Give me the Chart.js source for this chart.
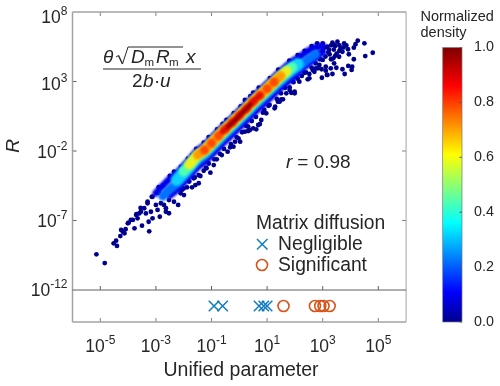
<!DOCTYPE html>
<html>
<head>
<meta charset="utf-8">
<script src="https://cdn.jsdelivr.net/npm/chart.js@4"></script>
<style>
    body { margin: 0; background: #fff; }
    canvas { position: absolute; top: 0; }
    #main { left: 0; }
    #bar { left: 415px; }
</style>
</head>
<body>
<canvas id="main" width="415" height="386"></canvas>
<canvas id="bar" width="85" height="386"></canvas>
<script>
// All points are [log10 of unified parameter, log10 of R]
const sparsePoints = [
    [-5.14,-9.43],[-4.84,-10.06],[-4.52,-8.64],[-4.40,-8.83],[-4.43,-8.45],[-4.28,-8.12],[-4.25,-7.68],[-4.09,-7.63],
    [-4.13,-7.92],[-3.98,-7.16],[-3.77,-7.56],[-3.50,-7.37],[-3.24,-7.78],[-3.26,-7.09],[-3.12,-6.84],[-2.86,-6.73],
    [-3.83,-6.96],[-3.66,-6.84],[-3.54,-6.37],[-3.42,-6.12],[-3.18,-6.37],[-2.94,-6.24],[-2.64,-6.12],[-2.53,-6.48],
    [-2.71,-5.88],[-2.35,-5.65],[-2.20,-5.88],[-2.53,-5.53],[-2.11,-5.04],[-1.99,-5.17],[-2.07,-4.81],[-3.12,-5.29],
    [-3.30,-5.76],[-4.01,-7.20],[-3.71,-6.60],[-4.19,-7.81],[-3.60,-6.49],[-3.36,-6.49],[-3.00,-5.88],[-2.82,-5.76],
    [-2.64,-6.37],[-3.90,-6.95],[-3.70,-6.55],[-3.55,-6.10],[-3.30,-5.65],[-3.15,-5.30],[-2.90,-5.00],[-2.75,-4.50],
    [-2.35,-3.49],[-1.70,-2.29],[-1.28,-1.40],[-0.46,0.23],[-1.64,-3.96],[-1.40,-3.80],[-1.04,-3.56],[-1.28,-3.42],
    [-0.81,-2.60],[-0.63,-2.29],[-0.33,-1.73],[-0.15,-1.33],[-0.03,-1.09],[0.20,-0.61],[-1.70,-4.61],[-1.46,-4.32],
    [-1.88,-4.61],[-1.58,-4.45],[-1.18,-3.24],[-1.46,-3.73],[-0.92,-3.01],[-0.42,-2.05],[-2.17,-4.68],
    [0.32,-0.25],[0.50,-0.37],[0.61,-0.44],[0.38,-0.49],[0.74,-0.06],[0.79,0.23],[0.85,0.76],[1.09,1.31],
    [1.27,1.07],[1.45,1.55],[1.57,1.72],[1.69,2.15],[1.87,2.19],[1.99,2.27],[1.81,2.58],[2.34,3.63],[2.52,3.54],
    [2.46,3.16],[2.64,3.83],[2.82,3.95],[3.00,4.55],[3.11,3.78],[3.15,3.47],[2.88,4.19],[2.16,2.99],[0.50,2.19],[0.20,1.67],
    [4.80,5.07],[4.53,4.83],[4.50,5.75],[4.26,5.94],[4.18,5.68],[4.12,5.43],[3.94,4.96],[3.91,5.32],[3.77,5.75],
    [3.53,5.86],[4.12,4.60],[4.06,4.06],[3.92,4.12],[4.04,3.83],[3.71,3.88],[3.79,3.54],[3.49,3.99],[3.35,3.54],
    [3.17,3.47],[2.97,3.27],[3.41,4.31],[3.29,3.95],[3.11,4.06],[2.96,3.88],[2.75,3.95],[2.70,3.70],[2.52,3.23],
    [3.38,4.67],[3.59,4.78],[3.71,5.14],[3.23,5.27],[3.41,5.63],[3.64,5.39],[3.17,5.50],[2.99,5.50],
    [1.99,2.15],[1.81,2.39],[1.51,1.72],[1.39,1.55],[1.29,1.19],[0.97,0.71],[0.68,-0.13],[0.32,-0.56],[0.03,-1.33],[-0.21,-1.69],
    [3.00,5.20],[3.20,5.10],[3.40,5.30],[3.50,5.00],[3.10,4.80],[3.30,4.60],[3.60,5.60],[3.00,5.75],[2.80,5.45],[3.35,5.80],
    // fringe under the band
    [-2,-4.7],[-1.8,-4.2],[-1.6,-3.9],[-1.2,-3.2],[-1.1,-2.9],[-.9,-2.6],[-.7,-2.2],[-.55,-1.85],[-.3,-1.5],[-.1,-1],[.1,-.65],
    [.25,-.2],[.45,.15],[.6,.45],[.9,.95],[1.05,1.25],[1.35,1.75],[1.5,2.15],[1.65,2.55],[1.95,2.95],[2.1,3.2],[2.25,3.4],
    [2.4,3.65],[2.6,4],[2.75,4.3],[2.9,4.6],
    // fringe over the band
    [-2.9,-4.6],[-2.5,-3.8],[-2.1,-3.15],[-1.85,-2.55],[-1.55,-1.85],[-1.1,-1],[-.8,-.45],[-.6,-.05],[-.2,.72],[.05,1.2],
    [.4,1.95],[.7,2.55],[1.1,3.25],[1.4,3.85],[1.8,4.5],[2.1,4.9],[2.35,5.2],[2.6,5.55],[2.8,5.75],
    // top end of the cloud
    [3.1,5.45],[3.25,4.95],[3.45,5.55],[3.6,5.2],[3.75,5.45],[3.85,5.6],[3.3,5.6],[3.45,4.85],[2.9,5.1]
];
const blueUpper = [
    [-3,-5.03],[-2.75,-4.5],[-2.5,-4.01],[-2.25,-3.6],[-2,-3.07],[-1.75,-2.52],[-1.5,-1.95],[-1.25,-1.58],
    [-1,-1.08],[-.75,-.57],[-.5,-.07],[-.25,.4],[0,.9],[.25,1.38],[.5,1.9],[.75,2.36],[1,2.83],[1.25,3.31],[1.5,3.76],[1.75,4.19],
    [2,4.57],[2.25,4.87],[2.5,5.22],[2.75,5.45],[3,5.55]
];
const blueLower = [
    [-2.5,-5.21],[-2.25,-4.8],[-2,-4.27],[-1.75,-3.72],[-1.5,-3.15],[-1.25,-2.78],[-1,-2.28],[-.75,-1.77],[-.5,-1.27],
    [-.25,-.8],[0,-.3],[.25,.18],[.5,.7],[.75,1.16],[1,1.63],[1.25,2.11],[1.5,2.56],[1.75,2.99],[2,3.37],[2.25,3.9],[2.5,4.3],[2.75,4.7],[3,5.1]
];
const azurePoints = [
    [-2.75,-5.25],[-2.5,-4.76],[-2.25,-4.35],[-2,-3.82],[-1.75,-3.27],[-1.5,-2.7],[-1.25,-2.33],[-1,-1.83],[-.75,-1.32],
    [-.5,-.82],[-.25,-.35],[0,.15],[.25,.63],[.5,1.15],[.75,1.61],[1,2.08],[1.25,2.56],[1.5,3.01],[1.75,3.44],[2,3.82],[2.25,4.22],
    [2.5,4.62],[2.75,4.96]
];
const cyanPoints = [
    [-2.25,-4.07],[-2,-3.54],[-1.75,-2.99],[-1.5,-2.42],[-1.25,-2.05],[-1,-1.55],[-.75,-1.04],[-.5,-.54],[-.25,-.07],
    [0,.43],[.25,.91],[.5,1.43],[.75,1.89],[1,2.36],[1.25,2.84],[1.5,3.29],[1.75,3.72],[2,4.10],[2.1,4.25]
];
const greenPoints = [
    [-2,-3.47],[-1.75,-2.92],[-1.5,-2.35],[-1.25,-1.98],[-1,-1.48],[-.75,-.97],[-.5,-.47],[-.25,0],[0,.5],[.25,.98],
    [.5,1.5],[.75,1.96],[1,2.43],[1.25,2.91],[1.5,3.36],[1.75,3.79],[1.9,4.02]
];
const yellowPoints = [
    [-1.8,-2.98],[-1.5,-2.30],[-1.25,-1.93],[-1,-1.43],[-.75,-.92],[-.5,-.42],[-.25,.05],[0,.55],[.25,1.03],[.5,1.55],
    [.75,2.01],[1,2.48],[1.25,2.96],[1.5,3.41],[1.7,3.75]
];
const orangePoints = [
    [-1.5,-2.30],[-1.25,-1.93],[-1,-1.43],[-.75,-.92],[-.5,-.42],[-.25,.05],[0,.55],[.25,1.03],[.5,1.55],[.75,2.01],[1,2.48],[1.25,2.96],[1.5,3.41]
];
const vermilionPoints = [
    [-1.25,-1.93],[-1,-1.43],[-.75,-.92],[-.5,-.42],[-.25,.05],[0,.55],[.25,1.03],[.5,1.55],[.75,2.01],[1,2.48],[1.25,2.96]
];
const redPoints = [
    [-.6,-.6],[-.5,-.42],[-.25,.05],[0,.55],[.25,1.03],[.5,1.55],[.75,2.01]
];
const darkRedPoints = [
    [-.4,-.24],[-.25,.05],[-.1,.3],[0,.55],[.15,.85],[.25,1.03],[.4,1.35]
];
// Strip under the main panel
const negligibleX = [-0.91, -0.60, 0.71, 0.88, 1.00];
const significantX = [1.59, 2.72, 2.91, 3.03, 3.25];

const xTickExponents = [-5, -3, -1, 1, 3, 5];
const yTickExponents = [-12, -7, -2, 3, 8];
const barTicks = [0, 0.2, 0.4, 0.6, 0.8, 1];
const jetStops = [
    [0, '#00008f'], [0.11, '#0000ff'], [0.36, '#00ffff'], [0.61, '#ffff00'], [0.86, '#ff0000'], [1, '#800000']
];

const INK = '#262626';
const FONT = '"Liberation Sans", Arial, sans-serif';
const FRAME = '#a3a3a3';
const BLUE = '#0f7cc0';
const ORANGE = '#d95319';

function toXY(pts) {
    return pts.map(p => ({ x: Math.pow(10, p[0]), y: Math.pow(10, p[1]) }));
}

function densityLayer(pts, color, radius, order) {
    return {
        data: toXY(pts),
        yAxisID: 'y',
        backgroundColor: color,
        borderWidth: 0,
        pointRadius: radius,
        order: order
    };
}

// Dense part of the cloud, a thick round line through the points of one density level
function bandLayer(pts, color, width, order) {
    return {
        data: toXY(pts),
        yAxisID: 'y',
        showLine: true,
        borderColor: color,
        borderWidth: width,
        borderCapStyle: 'round',
        borderJoinStyle: 'round',
        tension: 0.4,
        pointRadius: 0,
        order: order
    };
}

function powerLabel(ctx, exp, x, y, align) {
    ctx.font = '17.5px ' + FONT;
    const baseW = ctx.measureText('10').width;
    ctx.font = '12px ' + FONT;
    const expW = ctx.measureText(String(exp)).width;
    const left = align === 'right' ? x - baseW - expW : x - (baseW + expW) / 2;
    ctx.textAlign = 'left';
    ctx.fillStyle = INK;
    ctx.font = '17.5px ' + FONT;
    ctx.fillText('10', left, y);
    ctx.font = '12px ' + FONT;
    ctx.fillText(String(exp), left + baseW, y - 8);
}

function text(ctx, str, x, y, font, align) {
    ctx.font = font;
    ctx.textAlign = align || 'left';
    ctx.fillStyle = INK;
    ctx.fillText(str, x, y);
}

function line(ctx, x1, y1, x2, y2, color, width) {
    ctx.strokeStyle = color;
    ctx.lineWidth = width;
    ctx.beginPath();
    ctx.moveTo(x1, y1);
    ctx.lineTo(x2, y2);
    ctx.stroke();
}

// Soft edges on the density cloud, the markers in the strip stay sharp
const softPlugin = {
    id: 'soft',
    beforeDatasetDraw(chart, args) {
        const yId = chart.data.datasets[args.index].yAxisID;
        if (yId === 'y') chart.ctx.filter = args.index === 0 ? 'blur(0.4px)' : 'blur(1.1px)';
    },
    afterDatasetDraw(chart) {
        chart.ctx.filter = 'none';
    }
};

// Frame, inward ticks, split labels and the annotations
const framePlugin = {
    id: 'frame',
    afterDraw(chart) {
        const ctx = chart.ctx;
        const a = chart.chartArea;
        const x = chart.scales.x;
        const y = chart.scales.y;
        const split = chart.scales.strip.top;
        ctx.save();
        ctx.textBaseline = 'alphabetic';
        ctx.lineCap = 'butt';

        xTickExponents.forEach(e => {
            const px = x.getPixelForValue(Math.pow(10, e));
            line(ctx, px, a.top, px, a.top + 4, '#808080', 1);
            line(ctx, px, split, px, split - 4, '#606060', 1);
            line(ctx, px, a.bottom, px, a.bottom - 4, '#808080', 1);
            powerLabel(ctx, e, px, 351.5, 'center');
        });
        const labelDrop = [5.5, 6.5, 7, 8.5, 10.5];
        yTickExponents.forEach((e, i) => {
            const py = y.getPixelForValue(Math.pow(10, e));
            if (i > 0 && i < yTickExponents.length - 1) {
                line(ctx, a.left, py, a.left + 4, py, '#606060', 1);
                line(ctx, a.right, py, a.right - 4, py, '#808080', 1);
            }
            powerLabel(ctx, e, 67.5, py + labelDrop[i], 'right');
        });

        line(ctx, a.left, a.top, a.right, a.top, FRAME, 1.5);
        line(ctx, a.left, a.top, a.left, a.bottom, FRAME, 1.5);
        line(ctx, a.right, a.top, a.right, a.bottom, FRAME, 1);
        line(ctx, a.left, a.bottom, a.right, a.bottom, FRAME, 1.5);
        line(ctx, a.left, split, a.right, split, '#606060', 1);

        text(ctx, 'Unified parameter', 241, 376, '19.5px ' + FONT, 'center');
        ctx.save();
        ctx.translate(19, 146);
        ctx.rotate(-Math.PI / 2);
        text(ctx, 'R', 0, 0, 'italic 19px ' + FONT, 'center');
        ctx.restore();

        // Fraction
        const it = 'italic 19px ' + FONT;
        text(ctx, 'θ', 103, 63, it);
        line(ctx, 116, 57, 118.5, 55.5, INK, 1);
        line(ctx, 118.5, 55.5, 122.5, 64, INK, 1.4);
        line(ctx, 122.5, 64, 128, 47, INK, 1);
        line(ctx, 128, 47, 183, 47, INK, 1);
        text(ctx, 'D', 131, 63, it);
        text(ctx, 'm', 144.5, 66, '11.5px ' + FONT);
        text(ctx, 'R', 156, 63, it);
        text(ctx, 'm', 169, 66, '11.5px ' + FONT);
        text(ctx, 'x', 186, 63, it);
        line(ctx, 103, 69, 201, 69, INK, 1);
        text(ctx, '2', 132, 87, '19px ' + FONT);
        text(ctx, 'b', 143, 87, it);
        text(ctx, '·', 154, 87, '19px ' + FONT);
        text(ctx, 'u', 160, 87, it);

        // r value
        text(ctx, 'r', 286, 168, it);
        text(ctx, ' = 0.98', 292, 168, '19px ' + FONT);

        // Legend
        text(ctx, 'Matrix diffusion', 256, 229, '19.3px ' + FONT);
        text(ctx, 'Negligible', 278, 250, '19.3px ' + FONT);
        text(ctx, 'Significant', 278, 271, '19.3px ' + FONT);
        line(ctx, 257, 239, 267.5, 249.5, BLUE, 1.5);
        line(ctx, 257, 249.5, 267.5, 239, BLUE, 1.5);
        ctx.strokeStyle = ORANGE;
        ctx.lineWidth = 1.6;
        ctx.beginPath();
        ctx.arc(262, 265, 5.5, 0, Math.PI * 2);
        ctx.stroke();
        ctx.restore();
    }
};

new Chart(document.getElementById('main'), {
    type: 'scatter',
    data: {
        datasets: [
            densityLayer(sparsePoints, '#00008f', 2.4, 13),
            bandLayer(blueUpper, '#0000e8', 7, 12),
            bandLayer(blueLower, '#0000e8', 7, 11),
            bandLayer(azurePoints, '#0070ff', 9, 10),
            bandLayer(cyanPoints, '#10d0ff', 12, 9),
            bandLayer(greenPoints, '#50ffb0', 10, 8),
            bandLayer(yellowPoints, '#e8f020', 10, 7),
            bandLayer(orangePoints, '#ff9a00', 9, 6),
            densityLayer(vermilionPoints, '#ff4a00', 4.4, 5),
            bandLayer(redPoints, '#e01000', 6, 4),
            bandLayer(darkRedPoints, '#980000', 4, 3),
            {
                data: negligibleX.map(v => ({ x: Math.pow(10, v), y: 0.5 })),
                yAxisID: 'strip',
                pointStyle: 'crossRot',
                pointRadius: 7.4,
                borderColor: BLUE,
                borderWidth: 1.5,
                order: 2
            },
            {
                data: significantX.map(v => ({ x: Math.pow(10, v), y: 0.5 })),
                yAxisID: 'strip',
                pointStyle: 'circle',
                pointRadius: 5.5,
                backgroundColor: 'rgba(0,0,0,0)',
                borderColor: ORANGE,
                borderWidth: 1.6,
                order: 1
            }
        ]
    },
    plugins: [softPlugin, framePlugin],
    options: {
        responsive: false,
        animation: false,
        layout: { padding: { top: 12, left: 0, right: 5.5, bottom: 0 } },
        plugins: { legend: { display: false }, tooltip: { enabled: false } },
        scales: {
            x: {
                type: 'logarithmic',
                min: 1e-6,
                max: 1e6,
                grid: { display: false },
                border: { display: false },
                ticks: { display: false },
                afterBuildTicks: s => { s.ticks = xTickExponents.map(e => ({ value: Math.pow(10, e) })); },
                afterFit: s => { s.height = 64; }
            },
            strip: {
                type: 'linear',
                position: 'left',
                stack: 'panels',
                stackWeight: 32,
                min: 0,
                max: 1,
                grid: { display: false },
                border: { display: false },
                ticks: { display: false },
                afterFit: s => { s.width = 72.5; }
            },
            y: {
                type: 'logarithmic',
                position: 'left',
                stack: 'panels',
                stackWeight: 278,
                min: 1e-12,
                max: 1e8,
                grid: { display: false },
                border: { display: false },
                ticks: { display: false },
                afterBuildTicks: s => { s.ticks = yTickExponents.map(e => ({ value: Math.pow(10, e) })); },
                afterFit: s => { s.width = 72.5; }
            }
        }
    }
});

// Colour bar: one floating bar filled with the jet gradient
const barFramePlugin = {
    id: 'barFrame',
    afterDraw(chart) {
        const ctx = chart.ctx;
        const a = chart.chartArea;
        const y = chart.scales.y;
        ctx.save();
        ctx.textBaseline = 'alphabetic';
        barTicks.forEach(t => {
            const py = y.getPixelForValue(t);
            line(ctx, a.right - 2.5, py, a.right, py, '#555', 1);
        });
        ctx.strokeStyle = '#777';
        ctx.lineWidth = 0.7;
        ctx.strokeRect(a.left, a.top, a.right - a.left, a.bottom - a.top);
        text(ctx, 'Normalized', 5.5, 21, '14.5px ' + FONT);
        text(ctx, 'density', 5.5, 37, '14.5px ' + FONT);
        ctx.restore();
    }
};

new Chart(document.getElementById('bar'), {
    type: 'bar',
    data: {
        labels: ['density'],
        datasets: [{
            data: [[barTicks[0], barTicks[barTicks.length - 1]]],
            barPercentage: 1,
            categoryPercentage: 1,
            backgroundColor: c => {
                const a = c.chart.chartArea;
                if (!a) return '#000';
                const g = c.chart.ctx.createLinearGradient(0, a.bottom, 0, a.top);
                jetStops.forEach(s => g.addColorStop(s[0], s[1]));
                return g;
            }
        }]
    },
    plugins: [barFramePlugin],
    options: {
        responsive: false,
        animation: false,
        layout: { padding: { top: 47.5, left: 27.7, right: 0, bottom: 64 } },
        plugins: { legend: { display: false }, tooltip: { enabled: false } },
        scales: {
            x: { display: false },
            y: {
                position: 'right',
                min: 0,
                max: 1,
                grid: { display: false },
                border: { display: false },
                ticks: {
                    stepSize: 0.2,
                    padding: 4,
                    color: INK,
                    font: { family: 'Liberation Sans', size: 14.3 },
                    callback: v => v.toFixed(1)
                },
                afterFit: s => { s.width = 38; }
            }
        }
    }
});
</script>
</body>
</html>
